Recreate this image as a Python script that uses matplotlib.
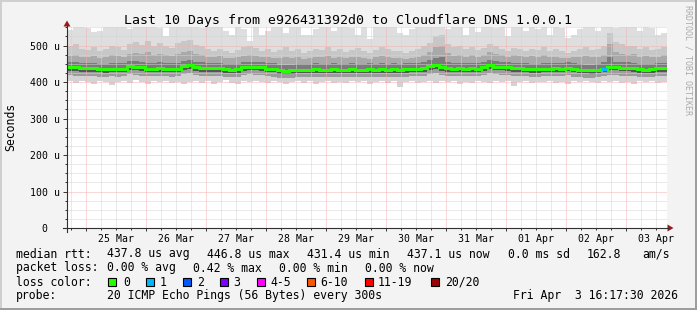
import matplotlib
matplotlib.use('Agg')
import matplotlib.pyplot as plt
import matplotlib.dates as mdates
from matplotlib.patches import Rectangle, Polygon
from matplotlib.lines import Line2D
from matplotlib.ticker import MultipleLocator, FuncFormatter, NullFormatter
from datetime import datetime, timedelta

plt.rcParams['font.family'] = ['DejaVu Sans Mono']

W, H = 697, 310

# ================== data (values in microseconds) ==================
t_start = datetime(2026, 3, 24, 16, 17, 30)
step = timedelta(minutes=144)          # one smoke column = 2.4 h, 100 columns = 10 days

median = [441, 440, 439, 438, 438, 436, 435, 436, 436, 437,
          445, 442, 440, 437, 437, 438, 437, 436, 437, 444,
          446, 440, 439, 439, 438, 438, 435, 434, 435, 440,
          441, 441, 440, 437, 436, 432, 431, 432, 433, 434,
          434, 435, 434, 434, 435, 434, 434, 435, 434, 434,
          435, 434, 435, 434, 435, 434, 435, 436, 436, 438,
          444, 446, 440, 438, 437, 438, 437, 438, 437, 440,
          446, 442, 441, 440, 438, 438, 437, 435, 435, 437,
          437, 438, 437, 439, 436, 434, 433, 432, 434, 437,
          442, 441, 439, 439, 438, 435, 434, 435, 438, 438]

# packets lost per column (out of 20)
loss = [0, 0, 0, 0, 0, 0, 0, 0, 0, 0,
        0, 0, 0, 0, 0, 0, 0, 0, 0, 0,
        0, 0, 0, 0, 0, 0, 0, 0, 0, 0,
        0, 0, 0, 0, 0, 0, 0, 0, 0, 0,
        0, 0, 0, 0, 0, 0, 0, 0, 0, 0,
        0, 0, 0, 0, 0, 0, 0, 0, 0, 0,
        0, 0, 0, 0, 0, 0, 0, 0, 0, 0,
        0, 0, 0, 0, 0, 0, 0, 0, 0, 0,
        0, 0, 0, 0, 0, 0, 0, 0, 0, 1,
        0, 0, 0, 0, 0, 0, 0, 0, 0, 0]

# smoke: upper envelopes
smoke_max = [542, 560, 560, 548, 538, 540, 560, 560, 555, 560,
             545, 560, 560, 552, 560, 548, 525, 560, 560, 560,
             556, 560, 548, 560, 552, 560, 540, 528, 560, 545,
             512, 560, 530, 540, 560, 560, 535, 560, 555, 528,
             530, 545, 560, 560, 540, 560, 560, 548, 530, 560,
             518, 560, 552, 560, 560, 535, 528, 545, 560, 550,
             560, 560, 560, 545, 560, 560, 530, 560, 536, 560,
             560, 548, 560, 525, 552, 560, 540, 560, 545, 560,
             530, 560, 548, 522, 528, 545, 560, 555, 540, 560,
             560, 548, 560, 552, 560, 540, 560, 548, 530, 535]

hi3 = [498, 505, 492, 488, 495, 485, 490, 500, 496, 488,
       505, 510, 502, 512, 498, 506, 500, 494, 508, 512,
       515, 503, 498, 490, 486, 492, 484, 480, 488, 495,
       500, 493, 486, 490, 482, 488, 495, 485, 490, 480,
       484, 492, 488, 495, 486, 490, 482, 488, 493, 486,
       480, 489, 495, 490, 486, 484, 480, 486, 492, 498,
       508, 525, 530, 505, 495, 500, 490, 496, 488, 494,
       505, 498, 492, 486, 494, 490, 485, 492, 488, 495,
       486, 490, 484, 480, 486, 490, 495, 488, 492, 498,
       535, 510, 505, 498, 500, 492, 495, 488, 490, 496]

hi2 = [472, 475, 470, 468, 472, 466, 470, 474, 471, 468,
       478, 480, 476, 482, 474, 478, 475, 472, 478, 482,
       484, 477, 474, 470, 468, 471, 466, 465, 468, 472,
       474, 472, 468, 470, 466, 465, 468, 466, 468, 464,
       466, 470, 468, 471, 466, 469, 465, 468, 470, 467,
       464, 468, 471, 469, 467, 466, 464, 467, 470, 474,
       482, 495, 500, 480, 472, 475, 470, 474, 469, 473,
       482, 477, 473, 470, 474, 471, 468, 472, 469, 473,
       468, 470, 467, 465, 468, 470, 472, 468, 470, 474,
       505, 482, 478, 474, 476, 470, 472, 468, 470, 474]

hi1 = [455, 454, 453, 452, 453, 450, 450, 451, 451, 452,
       459, 458, 455, 453, 452, 454, 452, 451, 453, 459,
       461, 455, 454, 453, 452, 452, 450, 449, 450, 455,
       456, 456, 455, 452, 451, 448, 447, 448, 449, 450,
       450, 451, 450, 450, 451, 450, 450, 451, 450, 450,
       451, 450, 451, 450, 451, 450, 451, 452, 452, 454,
       460, 465, 468, 454, 452, 453, 452, 453, 452, 455,
       461, 457, 456, 455, 453, 453, 452, 450, 450, 452,
       452, 453, 452, 454, 451, 449, 448, 448, 450, 455,
       470, 456, 454, 454, 453, 450, 449, 450, 453, 453]

# smoke: lower envelopes
lo1 = [431, 430, 429, 429, 428, 427, 426, 427, 427, 428,
       434, 432, 430, 428, 428, 429, 428, 427, 428, 434,
       436, 430, 429, 429, 429, 428, 426, 425, 426, 431,
       432, 432, 431, 428, 427, 423, 422, 423, 424, 425,
       425, 426, 425, 425, 426, 425, 425, 426, 425, 425,
       426, 425, 426, 425, 426, 425, 426, 427, 427, 429,
       434, 436, 431, 429, 428, 429, 428, 429, 428, 431,
       436, 433, 432, 431, 429, 429, 428, 426, 426, 428,
       428, 429, 428, 430, 427, 425, 424, 423, 425, 428,
       432, 432, 430, 430, 429, 426, 425, 426, 429, 429]

lo2 = [420, 418, 417, 418, 416, 415, 414, 416, 415, 417,
       422, 420, 418, 416, 417, 418, 416, 415, 417, 422,
       424, 419, 418, 417, 418, 416, 414, 413, 415, 419,
       421, 420, 419, 417, 415, 412, 411, 412, 413, 414,
       414, 415, 413, 414, 415, 413, 414, 415, 413, 414,
       415, 413, 415, 414, 415, 413, 415, 416, 416, 418,
       422, 424, 420, 418, 417, 418, 416, 418, 417, 420,
       424, 421, 420, 419, 417, 418, 416, 414, 415, 417,
       416, 418, 417, 419, 415, 413, 412, 412, 414, 417,
       420, 420, 418, 418, 417, 414, 413, 414, 417, 418]

smoke_min = [402, 398, 404, 400, 395, 403, 400, 392, 401, 404,
             398, 405, 400, 396, 402, 399, 404, 397, 401, 395,
             400, 404, 398, 402, 396, 400, 405, 398, 394, 402,
             399, 404, 401, 397, 403, 400, 395, 399, 404, 398,
             402, 396, 400, 404, 398, 401, 397, 403, 399, 402,
             396, 401, 404, 398, 402, 386, 400, 404, 397, 401,
             403, 398, 402, 399, 404, 396, 401, 398, 403, 400,
             397, 402, 399, 404, 388, 400, 403, 397, 401, 399,
             404, 398, 400, 396, 402, 399, 404, 400, 397, 402,
             399, 403, 398, 401, 396, 402, 400, 404, 398, 401]

loss_labels = ['0', '1', '2', '3', '4-5', '6-10', '11-19', '20/20']
loss_colors = ['#26ff00', '#00b8ff', '#0059ff', '#7e00ff',
               '#ff00ff', '#ff5500', '#ff0000', '#a10000']

title = 'Last 10 Days from e926431392d0 to Cloudflare DNS 1.0.0.1'
# =======================================================================================


def fx(x):
    return x / W


def fy(y):
    return 1 - y / H


fig = plt.figure(figsize=(W / 100, H / 100), dpi=100, facecolor='#f3f3f3')
ax = fig.add_axes([fx(67), fy(228), 600 / W, 201 / H])
ax.set_facecolor('white')

n = len(median)
edges = mdates.date2num([t_start + i * step for i in range(n + 1)])
t_end = t_start + n * step

# smoke layers, light on the outside, dark near the median
layers = [(smoke_min, lo2, '#d3d3d3'),
          (lo2, lo1, '#9c9c9c'),
          (lo1, median, '#555555'),
          (median, hi1, '#7b7b7b'),
          (hi1, hi2, '#a9a9a9'),
          (hi2, hi3, '#c7c7c7'),
          (hi3, smoke_max, '#dedede')]
for low, high, c in layers:
    ax.stairs(high, edges, baseline=low, fill=True, color=c, lw=0,
              antialiased=False, zorder=1)

# median line, coloured by loss
ax.stairs(median, edges, baseline=None, color=loss_colors[0], lw=2.2, zorder=4)
for i, lost in enumerate(loss):
    if lost > 0:
        ax.hlines(median[i], edges[i], edges[i + 1], color=loss_colors[min(lost, 7)],
                  lw=2.2, zorder=5)

ax.set_xlim(mdates.date2num(t_start), mdates.date2num(t_end))
ax.set_ylim(0, 551)

# grid
ax.set_axisbelow(False)
ax.xaxis_date()
ax.xaxis.set_major_locator(mdates.DayLocator())
ax.xaxis.set_minor_locator(mdates.HourLocator(byhour=[6, 12, 18]))
ax.xaxis.set_major_formatter(NullFormatter())
ax.xaxis.set_minor_formatter(FuncFormatter(
    lambda v, p: mdates.num2date(v).strftime('%d %b') if mdates.num2date(v).hour == 12 else ''))
ax.yaxis.set_major_locator(MultipleLocator(100))
ax.yaxis.set_minor_locator(MultipleLocator(25))
ax.yaxis.set_major_formatter(FuncFormatter(lambda v, p: '0  ' if v == 0 else f'{int(v)} u'))

ax.grid(True, which='minor', color='#d4d4d4', lw=0.72, ls=(0, (1, 1)))
ax.grid(True, which='major', color='#f4b0b0', lw=0.72, ls=(0, (1, 1)))

ax.tick_params(axis='x', which='major', direction='out', length=2.2, width=0.7, color='#333333')
ax.tick_params(axis='x', which='minor', direction='out', length=1.4, width=0.7, color='#333333',
               pad=2.6, labelsize=7.1)
ax.tick_params(axis='y', which='major', direction='out', length=2.9, width=0.7, color='#333333',
               pad=2.2, labelsize=7.1)
ax.tick_params(axis='y', which='minor', direction='out', length=1.4, width=0.7, color='#333333')
for s in ax.spines.values():
    s.set_visible(False)

# axes lines with arrows
fig.add_artist(Line2D([fx(67), fx(67)], [fy(232), fy(25)], color='#303030', lw=0.8))
fig.add_artist(Line2D([fx(63), fx(669)], [fy(228), fy(228)], color='#303030', lw=0.8))
fig.add_artist(Polygon([(fx(63.5), fy(26.5)), (fx(70.5), fy(26.5)), (fx(67), fy(20.5))],
                       closed=True, color='#9a1c1c', lw=0))
fig.add_artist(Polygon([(fx(667.5), fy(224.5)), (fx(667.5), fy(231.5)), (fx(673.5), fy(228))],
                       closed=True, color='#9a1c1c', lw=0))

# titles
fig.text(fx(347.5), fy(24), title, ha='center', va='baseline', fontsize=9.55)
fig.text(fx(11), fy(127), 'Seconds', rotation=90, ha='center', va='center', fontsize=8.3)
fig.text(fx(688), fy(60), 'RRDTOOL / TOBI OETIKER', rotation=270, ha='center', va='center',
         fontsize=6.0, color='#ababab')

# legend / statistics
fs = 8.3
rows = [
    (257.5, [(16, 'median rtt:'), (107, '437.8 us avg'), (207, '446.8 us max'),
             (307, '431.4 us min'), (407, '437.1 us now'), (508, '0.0 ms sd'),
             (587, '162.8'), (642, 'am/s')]),
    (271.5, [(16, 'packet loss:'), (107, '0.00 % avg'), (193, '0.42 % max'),
             (279, '0.00 % min'), (365, '0.00 % now')]),
    (285.5, [(16, 'loss color:')]),
    (299.5, [(16, 'probe:'), (107, '20 ICMP Echo Pings (56 Bytes) every 300s'),
             (513, 'Fri Apr  3 16:17:30 2026')]),
]
for yb, items in rows:
    for x, s in items:
        fig.text(fx(x), fy(yb), s, ha='left', va='baseline', fontsize=fs)

box_x = [108, 145.5, 182.5, 219.5, 256.5, 307, 365, 431]
lab_x = [123, 160, 197, 233.5, 270.5, 320.5, 378, 445]
for bx, lx, lab, c in zip(box_x, lab_x, loss_labels, loss_colors):
    fig.add_artist(Rectangle((fx(bx), fy(285.5)), 8 / W, 8 / H, facecolor=c,
                             edgecolor='black', lw=0.8))
    fig.text(fx(lx), fy(285.5), lab, ha='left', va='baseline', fontsize=fs)

# 3d frame
fig.add_artist(Rectangle((0, 0), 1, 2 / H, facecolor='#9e9e9e', lw=0))
fig.add_artist(Rectangle((1 - 2 / W, 0), 2 / W, 1, facecolor='#9e9e9e', lw=0))
fig.add_artist(Rectangle((0, 1 - 2 / H), 1 - 2 / W, 2 / H, facecolor='#cfcfcf', lw=0))
fig.add_artist(Rectangle((0, 2 / H), 2 / W, 1 - 2 / H, facecolor='#cfcfcf', lw=0))

fig.savefig('out.png', dpi=100, facecolor=fig.get_facecolor())
